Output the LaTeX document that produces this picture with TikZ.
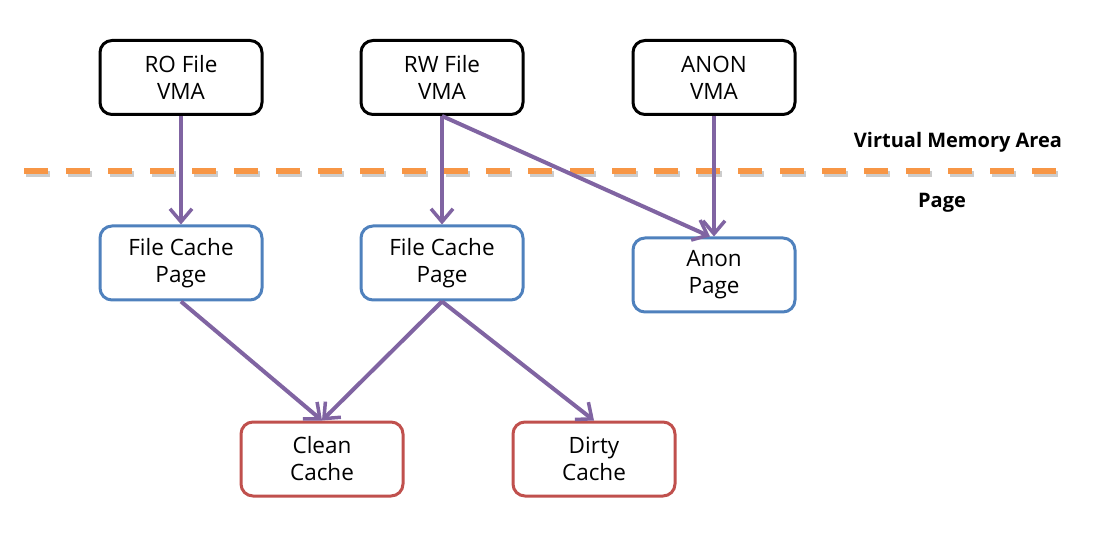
\documentclass[tikz,border=0pt]{standalone}
\usepackage{fontspec}
\setmainfont{Open Sans}
\usetikzlibrary{arrows.meta}
\definecolor{vmaline}{HTML}{000000}
\definecolor{pageblue}{HTML}{4F81BD}
\definecolor{cachered}{HTML}{C0504D}
\definecolor{arrowpurple}{HTML}{8064A2}
\definecolor{dashorange}{HTML}{F79646}
\tikzset{
  box/.style={draw, line width=3pt, rounded corners=12pt, minimum width=162pt, minimum height=74pt, inner sep=0pt, align=center, font=\fontsize{22.5}{27}\selectfont, fill=white},
  vmabox/.style={box, draw=vmaline},
  pagebox/.style={box, draw=pageblue},
  cachebox/.style={box, draw=cachered},
  conn/.style={draw=arrowpurple, line width=4pt, -{Straight Barb[length=13pt,width=22pt,line width=3.5pt]}},
  lbl/.style={font=\fontsize{20}{24}\selectfont\bfseries, inner sep=0pt}
}
\begin{document}
\begin{tikzpicture}[x=1pt,y=-1pt]
\useasboundingbox (0,0) rectangle (1094,534);
% dashed separator
\draw[gray!40, line width=6pt, dash pattern=on 24pt off 18pt] (26,174) -- (1058,174);
\draw[dashorange, line width=6pt, dash pattern=on 24pt off 18pt] (24,171) -- (1056,171);
\node[lbl] (vmalbl) at (958,142) {Virtual Memory Area};
\node[lbl] (pagelbl) at (942,203) {Page};
% boxes
\node[vmabox] (ro) at (181,77.5) {RO File\\VMA};
\node[vmabox] (rw) at (442,77.5) {RW File\\VMA};
\node[vmabox] (anon) at (714,77.5) {ANON\\VMA};
\node[pagebox] (fc1) at (181,263) {File Cache\\Page};
\node[pagebox] (fc2) at (442,263) {File Cache\\Page};
\node[pagebox] (ap) at (714,275) {Anon\\Page};
\node[cachebox] (clean) at (322,459) {Clean\\Cache};
\node[cachebox] (dirty) at (594,459) {Dirty\\Cache};
% connectors
\draw[conn] (ro.south) -- (fc1.north);
\draw[conn] (rw.south) -- (fc2.north);
\draw[conn] (rw.south) -- ([xshift=-4pt]ap.north);
\draw[conn] (anon.south) -- (ap.north);
\draw[conn] (fc1.south) -- (clean.north);
\draw[conn] (fc2.south) -- (clean.north);
\draw[conn] (fc2.south) -- (dirty.north);
\end{tikzpicture}
\end{document}
